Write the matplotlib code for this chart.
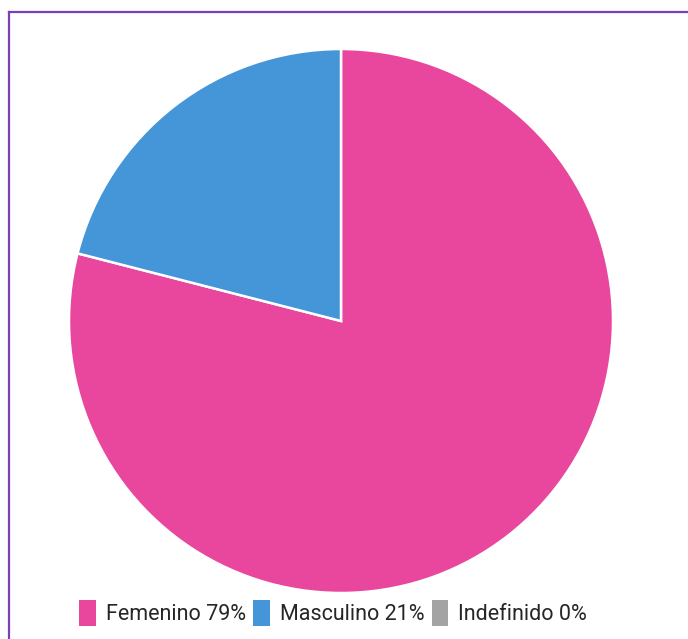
import matplotlib.pyplot as plt
from matplotlib.lines import Line2D
from matplotlib.patches import Patch

labels = ["Femenino", "Masculino", "Indefinido"]
shares = [79, 21, 0]
colors = ["#e8479d", "#4496d9", "#a3a3a3"]

W, H = 688, 639

fig = plt.figure(figsize=(W / 100, H / 100), dpi=100)
fig.patch.set_facecolor("white")

# pie: centre (341, 321) px, radius 272 px
cx, cy, r = 341, 321, 272
ax = fig.add_axes([(cx - r) / W, (H - cy - r) / H, 2 * r / W, 2 * r / H])
drawn = [(v, c) for v, c in zip(shares, colors) if v > 0]
ax.pie([v for v, _ in drawn], colors=[c for _, c in drawn], startangle=90,
       counterclock=False, radius=1,
       wedgeprops=dict(edgecolor="white", linewidth=1.8))
ax.set_xlim(-1, 1)
ax.set_ylim(-1, 1)
ax.set_aspect("equal")
ax.axis("off")

handles = [Patch(facecolor=c, edgecolor="none") for c in colors]
texts = [f"{l} {v}%" for l, v in zip(labels, shares)]
leg = fig.legend(handles, texts, loc="center", bbox_to_anchor=(333 / W, 1 - 613 / H),
                 ncol=3, frameon=False, prop={"family": "Roboto", "size": 15.5},
                 handlelength=0.78, handleheight=1.5, handletextpad=0.45,
                 columnspacing=0.35, borderpad=0)
for t in leg.get_texts():
    t.set_color("#262626")

# purple frame on top and left
purple = "#7b3fb6"
fig.add_artist(Line2D([8.5 / W, 1], [1 - 11.5 / H, 1 - 11.5 / H], color=purple,
                      linewidth=1.6, transform=fig.transFigure))
fig.add_artist(Line2D([8.5 / W, 8.5 / W], [0, 1 - 11.5 / H], color=purple,
                      linewidth=1.6, transform=fig.transFigure))

fig.savefig("out.png", dpi=100)
